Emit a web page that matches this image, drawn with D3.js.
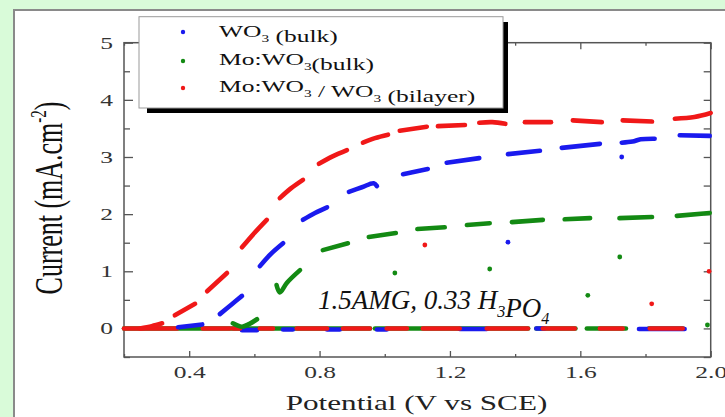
<!DOCTYPE html>
<html>
<head>
<meta charset="utf-8">
<script src="https://cdn.jsdelivr.net/npm/d3@7"></script>
<style>
  html, body { margin: 0; padding: 0; background: #d9fbd9; overflow: hidden; }
  svg { display: block; }
</style>
</head>
<body>
<svg id="chart" width="725" height="417"></svg>
<script>
// Chopped-light linear sweep voltammetry: photocurrent density vs potential

// ---- axes ----
const xDomain = [0.2, 2.0];
const yDomain = [-0.5, 5];
const xMajorTicks = [0.4, 0.8, 1.2, 1.6, 2.0];
const xMinorTicks = [0.2, 0.6, 1.0, 1.4, 1.8];
const yMajorTicks = [0, 1, 2, 3, 4, 5];
const yMinorTicks = [-0.5, 0.5, 1.5, 2.5, 3.5, 4.5];
const xTickLabels = ["0.4", "0.8", "1.2", "1.6", "2.0"];
const yTickLabels = ["0", "1", "2", "3", "4", "5"];
const seriesNames = ["WO_3 (bulk)", "Mo:WO_3(bulk)", "Mo:WO_3 / WO_3 (bilayer)"];

// ---- WO3 (bulk): illuminated segments, [V, mA/cm2] ----
const wo3Light = [
  [[0.366, 0.02], [0.44, 0.07]],
  [[0.494, 0.25], [0.53, 0.42], [0.562, 0.57]],
  [[0.617, 1.09], [0.65, 1.30], [0.688, 1.49]],
  [[0.749, 1.90], [0.786, 2.02], [0.823, 2.12]],
  [[0.89, 2.39], [0.93, 2.47], [0.966, 2.54], [0.976, 2.49]],
  [[1.056, 2.70], [1.132, 2.79]],
  [[1.19, 2.90], [1.29, 2.98]],
  [[1.378, 3.05], [1.476, 3.11]],
  [[1.543, 3.16], [1.66, 3.23]],
  [[1.727, 3.25], [1.76, 3.27], [1.785, 3.31], [1.828, 3.32]],
  [[1.905, 3.38], [1.997, 3.37]]
];
// dark intervals on the baseline: [Vstart, Vend, I]
const wo3Dark = [
  [0.562, 0.608, -0.03], [0.688, 0.718, -0.02], [0.823, 0.862, -0.02],
  [0.976, 1.006, -0.02], [1.23, 1.313, -0.01], [1.465, 1.49, 0],
  [1.78, 1.92, -0.01]
];
const wo3Spikes = [[1.378, 1.51], [1.727, 3.0]];

// ---- Mo:WO3 (bulk) ----
const moWo3Light = [
  [[0.534, 0.09], [0.562, 0.03], [0.585, 0.08], [0.608, 0.16]],
  [[0.668, 0.76], [0.678, 0.63], [0.70, 0.80], [0.74, 1.02]],
  [[0.81, 1.37], [0.887, 1.49]],
  [[0.951, 1.60], [1.034, 1.67]],
  [[1.10, 1.74], [1.184, 1.77]],
  [[1.252, 1.81], [1.322, 1.84]],
  [[1.39, 1.86], [1.485, 1.90]],
  [[1.552, 1.91], [1.63, 1.93]],
  [[1.72, 1.93], [1.82, 1.95]],
  [[1.896, 1.97], [1.997, 2.02]]
];
const moWo3Dark = [
  [0.2, 0.955, 0], [0.97, 1.44, 0], [1.465, 1.585, 0],
  [1.62, 1.74, 0], [1.81, 1.915, 0]
];
const moWo3Spikes = [[1.031, 0.97], [1.322, 1.04], [1.623, 0.58], [1.721, 1.25], [1.99, 0.06]];

// ---- Mo:WO3 / WO3 (bilayer) ----
const bilayerLight = [
  [[0.249, 0.0], [0.285, 0.04], [0.317, 0.09]],
  [[0.356, 0.23], [0.418, 0.43]],
  [[0.455, 0.65], [0.516, 0.97]],
  [[0.562, 1.42], [0.60, 1.67], [0.638, 1.90]],
  [[0.678, 2.28], [0.712, 2.45], [0.749, 2.60]],
  [[0.798, 2.88], [0.84, 3.01], [0.884, 3.12]],
  [[0.933, 3.25], [0.97, 3.33], [1.01, 3.39]],
  [[1.046, 3.46], [1.129, 3.53]],
  [[1.163, 3.54], [1.246, 3.56]],
  [[1.29, 3.60], [1.33, 3.61], [1.37, 3.58]],
  [[1.43, 3.61], [1.51, 3.61]],
  [[1.577, 3.64], [1.666, 3.61]],
  [[1.73, 3.64], [1.82, 3.62]],
  [[1.89, 3.67], [1.95, 3.70], [2.0, 3.77]]
];
const bilayerDark = [
  [0.2, 0.363, 0], [0.442, 0.525, 0], [0.534, 0.556, 0], [0.617, 0.657, 0],
  [0.73, 0.823, 0], [0.872, 0.954, 0], [1.006, 1.068, 0], [1.117, 1.23, 0],
  [1.313, 1.439, 0], [1.485, 1.583, 0], [1.66, 1.73, 0], [1.813, 1.914, 0]
];
const bilayerSpikes = [[1.123, 1.46], [1.819, 0.43], [1.995, 1.0]];

// ---- styling ----
const colors = { wo3: "#1a1aee", mo: "#138a13", bi: "#f01818" };
const serif = "'Liberation Serif', 'Times New Roman', Times, serif";
const stretch = 1.5;            // wide-set lettering of the figure
const plot = { left: 124, right: 710.7, top: 42.7, bottom: 357 };

const svg = d3.select("#chart");

// white panel with grey border on the green page
svg.append("rect")
  .attr("x", 14).attr("y", 10).attr("width", 725).attr("height", 420)
  .attr("fill", "#ffffff").attr("stroke", "#8a8a8a").attr("stroke-width", 2);

const x = d3.scaleLinear().domain(xDomain).range([plot.left, plot.right]);
const y = d3.scaleLinear().domain(yDomain).range([plot.bottom, plot.top]);

// ---- axes with inward ticks ----
const axisColor = "#555";
function styleAxis(g) {
  g.select(".domain").remove();
  g.selectAll("line").attr("stroke", axisColor).attr("stroke-width", 1.3);
}

svg.append("g").attr("transform", `translate(${plot.left},0)`)
  .call(d3.axisLeft(y).tickValues(yMinorTicks).tickSize(-6).tickFormat(""))
  .call(styleAxis);
svg.append("g").attr("transform", `translate(${plot.right},0)`)
  .call(d3.axisRight(y).tickValues(yMinorTicks.concat(yMajorTicks)).tickSize(-7).tickFormat(""))
  .call(styleAxis);
svg.append("g").attr("transform", `translate(0,${plot.top})`)
  .call(d3.axisTop(x).tickValues(xMinorTicks).tickSize(-3).tickFormat(""))
  .call(styleAxis);
svg.append("g").attr("transform", `translate(0,${plot.top})`)
  .call(d3.axisTop(x).tickValues(xMajorTicks).tickSize(-6.5).tickFormat(""))
  .call(styleAxis);
svg.append("g").attr("transform", `translate(0,${plot.bottom})`)
  .call(d3.axisBottom(x).tickValues(xMinorTicks).tickSize(-3).tickFormat(""))
  .call(styleAxis);

const yAxis = svg.append("g").attr("transform", `translate(${plot.left},0)`)
  .call(d3.axisLeft(y).tickValues(yMajorTicks).tickSize(-9).tickPadding(11)
    .tickFormat((d, i) => yTickLabels[i]))
  .call(styleAxis);
const xAxis = svg.append("g").attr("transform", `translate(0,${plot.bottom})`)
  .call(d3.axisBottom(x).tickValues(xMajorTicks).tickSize(-6).tickPadding(9)
    .tickFormat((d, i) => xTickLabels[i]))
  .call(styleAxis);

[yAxis, xAxis].forEach(g => {
  g.selectAll("text")
    .attr("font-family", serif).attr("font-size", 17).attr("fill", "#333")
    .each(function () {
      const t = d3.select(this);
      const tx = +t.attr("x") || 0;
      t.attr("x", 0).attr("transform", `translate(${tx},0) scale(${stretch},1)`);
    });
});

// frame
svg.append("rect")
  .attr("x", plot.left).attr("y", plot.top)
  .attr("width", plot.right - plot.left).attr("height", plot.bottom - plot.top)
  .attr("fill", "none").attr("stroke", axisColor).attr("stroke-width", 1.5);

// ---- data ----
const line = d3.line().x(d => x(d[0])).y(d => y(d[1])).curve(d3.curveCatmullRom);
const marks = svg.append("g");

function drawDark(data, color) {
  marks.append("g").selectAll("path").data(data).join("path")
    .attr("d", d => line([[d[0], d[2]], [d[1], d[2]]]))
    .attr("fill", "none").attr("stroke", color)
    .attr("stroke-width", 4.6).attr("stroke-linecap", "round");
}
function drawLight(data, color) {
  marks.append("g").selectAll("path").data(data).join("path")
    .attr("d", line)
    .attr("fill", "none").attr("stroke", color)
    .attr("stroke-width", 4.6).attr("stroke-linecap", "round")
    .attr("stroke-linejoin", "round");
}
function drawSpikes(data, color) {
  marks.append("g").selectAll("circle").data(data).join("circle")
    .attr("cx", d => x(d[0])).attr("cy", d => y(d[1]))
    .attr("r", 2.4).attr("fill", color);
}

drawDark(moWo3Dark, colors.mo);
drawDark(wo3Dark, colors.wo3);
drawDark(bilayerDark, colors.bi);
drawLight(moWo3Light, colors.mo);
drawLight(wo3Light, colors.wo3);
drawLight(bilayerLight, colors.bi);
drawSpikes(moWo3Spikes, colors.mo);
drawSpikes(wo3Spikes, colors.wo3);
drawSpikes(bilayerSpikes, colors.bi);

// ---- text helpers ----
// "_3" marks a subscript character
function richText(sel, str, size) {
  const parts = str.split(/(_.)/).filter(p => p.length);
  parts.forEach(p => {
    if (p[0] === "_") {
      sel.append("tspan").attr("font-size", size * 0.6).attr("dy", size * 0.28).text(p[1]);
      sel.append("tspan").attr("dy", -size * 0.28).text("");
    } else {
      sel.append("tspan").text(p);
    }
  });
}

// ---- axis titles ----
const yTitle = svg.append("text")
  .attr("transform", `translate(62,198) scale(${stretch},1) rotate(-90)`)
  .attr("text-anchor", "middle")
  .attr("font-family", serif).attr("font-size", 26).attr("fill", "#111");
yTitle.append("tspan").text("Current (mA.cm");
yTitle.append("tspan").attr("font-size", 15).attr("dy", -11).text("-2");
yTitle.append("tspan").attr("dy", 11).text(")");

svg.append("text")
  .attr("transform", `translate(${(285 + 548) / 2},410) scale(1.52,1)`)
  .attr("text-anchor", "middle")
  .attr("font-family", serif).attr("font-size", 20.5).attr("fill", "#222")
  .text("Potential (V vs SCE)");

// electrolyte / illumination note
const note = svg.append("text")
  .attr("x", 318).attr("y", 309)
  .attr("font-family", serif).attr("font-style", "italic")
  .attr("font-size", 27).attr("fill", "#111");
richText(note, "1.5AMG, 0.33 H_3PO_4", 27);

// ---- legend ----
const legend = svg.append("g");
legend.append("rect")
  .attr("x", 147).attr("y", 22).attr("width", 361).attr("height", 91)
  .attr("fill", "#000");
legend.append("rect")
  .attr("x", 139).attr("y", 16.7).attr("width", 364).attr("height", 91.3)
  .attr("fill", "#fff").attr("stroke", "#9a9a9a").attr("stroke-width", 1);

const legendColors = [colors.wo3, colors.mo, colors.bi];
const legendDotY = [32, 61, 88];
const legendTextY = [37, 65, 92];
seriesNames.forEach((name, i) => {
  legend.append("circle").attr("cx", 183).attr("cy", legendDotY[i]).attr("r", 2.2)
    .attr("fill", legendColors[i]);
  const t = legend.append("text")
    .attr("transform", `translate(219,${legendTextY[i]}) scale(${stretch},1)`)
    .attr("font-family", serif).attr("font-size", 17).attr("fill", "#111");
  richText(t, name, 17);
});
</script>
</body>
</html>
